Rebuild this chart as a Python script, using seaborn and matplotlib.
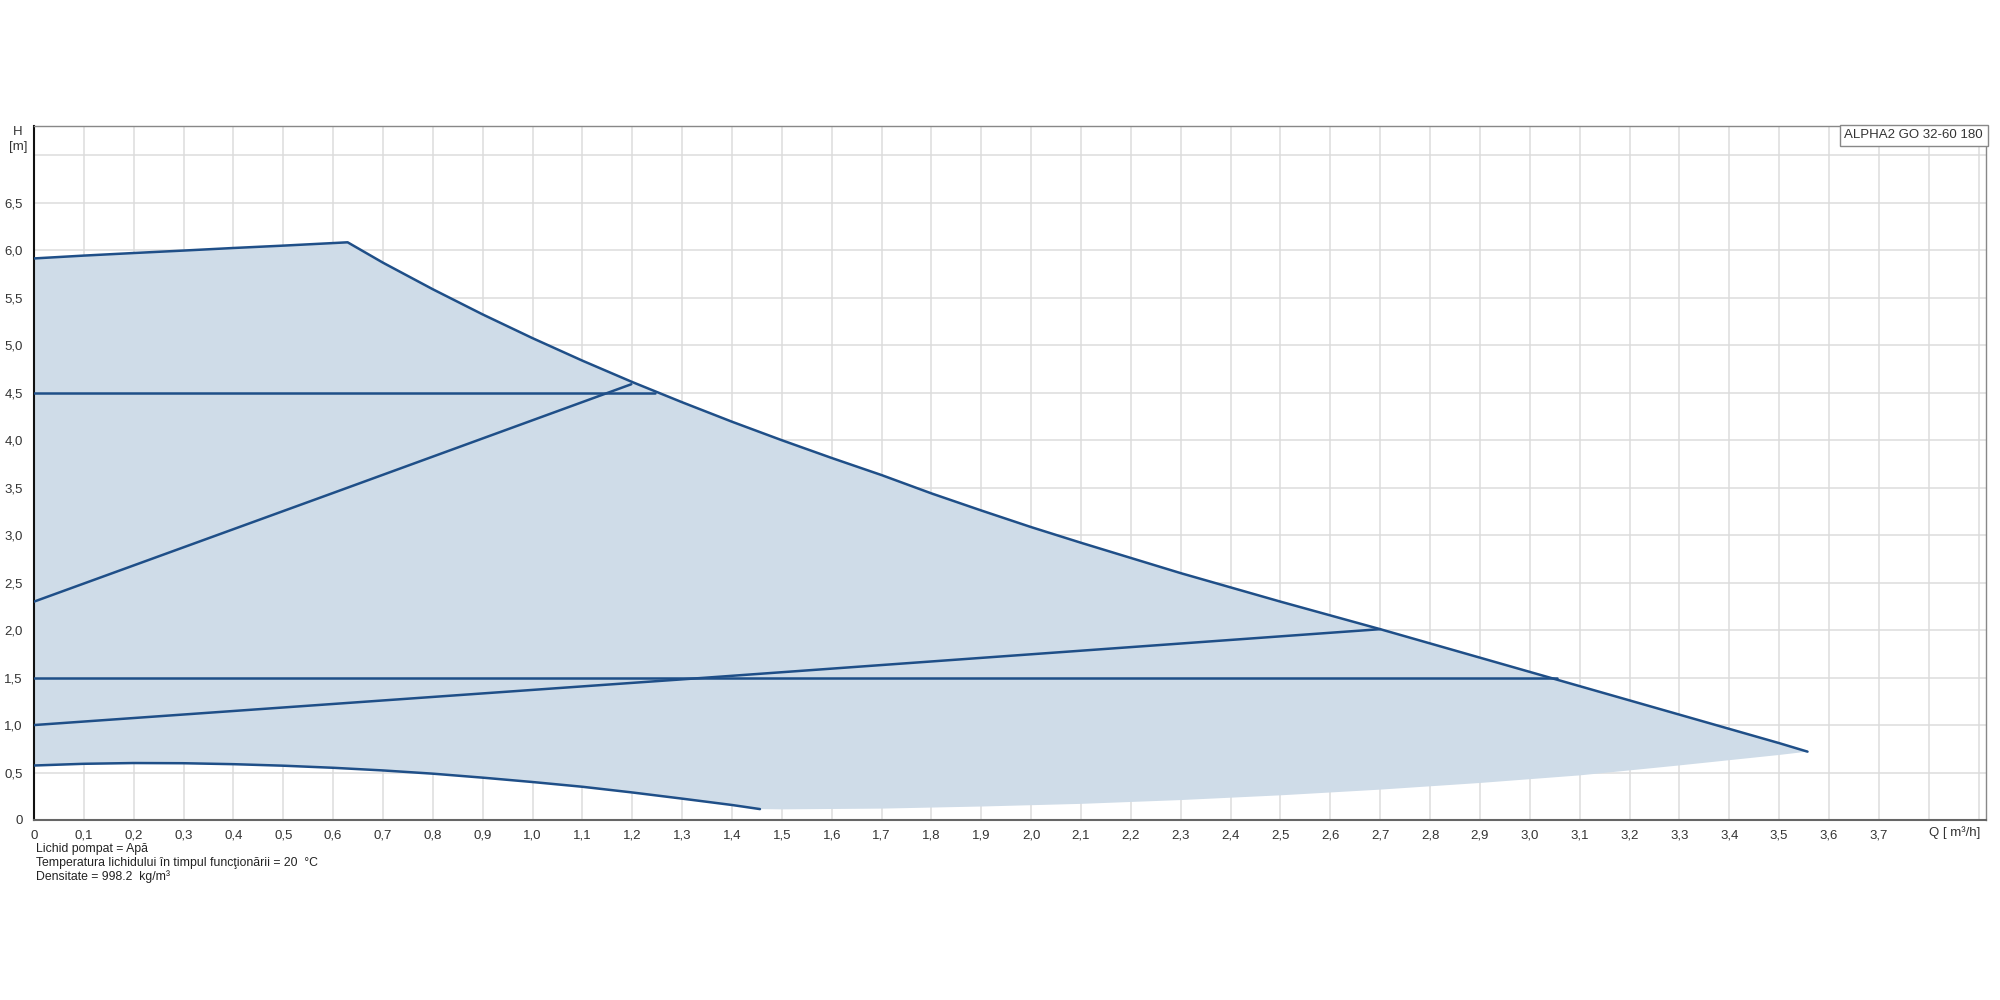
import numpy as np
import pandas as pd
import matplotlib
matplotlib.use("Agg")
import matplotlib.pyplot as plt
import seaborn as sns

# ---- data (Q in m3/h, H in m) ----
max_q = [0.0, 0.1, 0.2, 0.3, 0.4, 0.5, 0.6, 0.629, 0.7, 0.8, 0.9, 1.0, 1.1, 1.2, 1.3, 1.4,
         1.5, 1.6, 1.7, 1.8, 1.9, 2.0, 2.1, 2.2, 2.3, 2.4, 2.5, 2.6, 2.7, 2.8, 2.9, 3.0,
         3.1, 3.2, 3.3, 3.4, 3.5, 3.557]
max_h = [5.915, 5.945, 5.972, 5.998, 6.025, 6.05, 6.077, 6.085, 5.87, 5.59, 5.325, 5.075,
         4.838, 4.613, 4.40, 4.195, 4.0, 3.813, 3.633, 3.44, 3.26, 3.085, 2.92, 2.76, 2.60,
         2.45, 2.30, 2.155, 2.01, 1.86, 1.71, 1.56, 1.41, 1.26, 1.11, 0.96, 0.81, 0.72]

min_q = [0.0, 0.1, 0.2, 0.3, 0.4, 0.5, 0.6, 0.7, 0.8, 0.9, 1.0, 1.1, 1.2, 1.3, 1.4, 1.456]
min_h = [0.574, 0.592, 0.60, 0.598, 0.588, 0.572, 0.55, 0.522, 0.488, 0.446, 0.40, 0.35,
         0.29, 0.225, 0.158, 0.115]

edge_q = [1.456, 1.5, 1.7, 1.9, 2.1, 2.3, 2.5, 2.7, 2.9, 3.1, 3.3, 3.5, 3.557]
edge_h = [0.115, 0.112, 0.12, 0.142, 0.17, 0.21, 0.26, 0.32, 0.39, 0.47, 0.575, 0.685, 0.72]

pp_high_q = [0.0, 0.6, 1.198]
pp_high_h = [2.3, 3.445, 4.59]
pp_low_q = [0.0, 1.35, 2.70]
pp_low_h = [1.0, 1.50, 2.01]
cp_high_q = [0.0, 1.245]
cp_high_h = [4.5, 4.5]
cp_low_q = [0.0, 3.055]
cp_low_h = [1.5, 1.5]

x_ticks = [round(0.1 * i, 1) for i in range(40)]
y_ticks = [0.5 * i for i in range(15)]

title_box = "ALPHA2 GO 32-60 180"
notes = ["Lichid pompat = Apă",
         "Temperatura lichidului în timpul funcţionării = 20  °C",
         "Densitate = 998.2  kg/m³"]

# ---- style ----
sns.set_style("white")
plt.rcParams['font.family'] = ['Liberation Sans', 'DejaVu Sans']

line_c = "#1f4f88"
fill_c = "#cfdce8"

fig = plt.figure(figsize=(20, 10), dpi=100)
ax = fig.add_axes([0.017, 0.18, 0.976, 0.694])

# fill polygon: top curve then lower boundary reversed
poly_q = list(max_q) + list(edge_q[::-1]) + list(min_q[::-1])
poly_h = list(max_h) + list(edge_h[::-1]) + list(min_h[::-1])
ax.fill(poly_q, poly_h, color=fill_c, lw=0, zorder=1)

for q, h in [(max_q, max_h), (min_q, min_h), (pp_high_q, pp_high_h),
             (pp_low_q, pp_low_h), (cp_high_q, cp_high_h), (cp_low_q, cp_low_h)]:
    sns.lineplot(x=q, y=h, ax=ax, color=line_c, lw=1.8, sort=False,
                 estimator=None, zorder=3)

ax.set_xlim(0, 3.915)
ax.set_ylim(0, 7.31)

ax.set_xticks(x_ticks)
xl = []
for v in x_ticks:
    if v == 0:
        xl.append("0")
    elif v > 3.75:
        xl.append("")
    else:
        xl.append(f"{v:.1f}".replace(".", ","))
ax.set_xticklabels(xl)

ax.set_yticks(y_ticks)
yl = []
for v in y_ticks:
    if v == 0:
        yl.append("0")
    elif v >= 7.0:
        yl.append("")
    else:
        yl.append(f"{v:.1f}".replace(".", ","))
ax.set_yticklabels(yl)

ax.grid(True, color="#dcdcdc", lw=1.1, zorder=0)
ax.set_axisbelow(True)
ax.tick_params(axis="x", direction="inout", length=6, width=1, colors="#555555",
               labelsize=9.5, labelcolor="#333333", pad=4)
ax.tick_params(axis="y", direction="out", length=5, width=1, colors="#333333",
               labelsize=9.5, labelcolor="#333333", pad=3)

for s in ["top", "right"]:
    ax.spines[s].set_color("#888888")
    ax.spines[s].set_linewidth(1)
ax.spines["left"].set_color("#111111")
ax.spines["left"].set_linewidth(1.5)
ax.spines["bottom"].set_color("#666666")
ax.spines["bottom"].set_linewidth(1.5)
ax.set_xlabel("")
ax.set_ylabel("")

# H [m] label
fig.text(0.009, 0.868, "H", fontsize=9.5, color="#333333", ha="center", va="center")
fig.text(0.009, 0.853, "[m]", fontsize=9.5, color="#333333", ha="center", va="center")

# Q label
fig.text(0.9645, 0.167, "Q [ m³/h]", fontsize=9.5, color="#333333", ha="left", va="center")

# Title box top right
ax.text(0.9985, 0.995, title_box, transform=ax.transAxes, fontsize=9.5, color="#333333",
        ha="right", va="top",
        bbox=dict(boxstyle="square,pad=0.35", fc="white", ec="#888888", lw=1), zorder=5)

for i, t in enumerate(notes):
    fig.text(0.018, 0.151 - i * 0.0138, t, fontsize=8.8, color="#222222", ha="left", va="center")

fig.savefig("out.png", dpi=100)
